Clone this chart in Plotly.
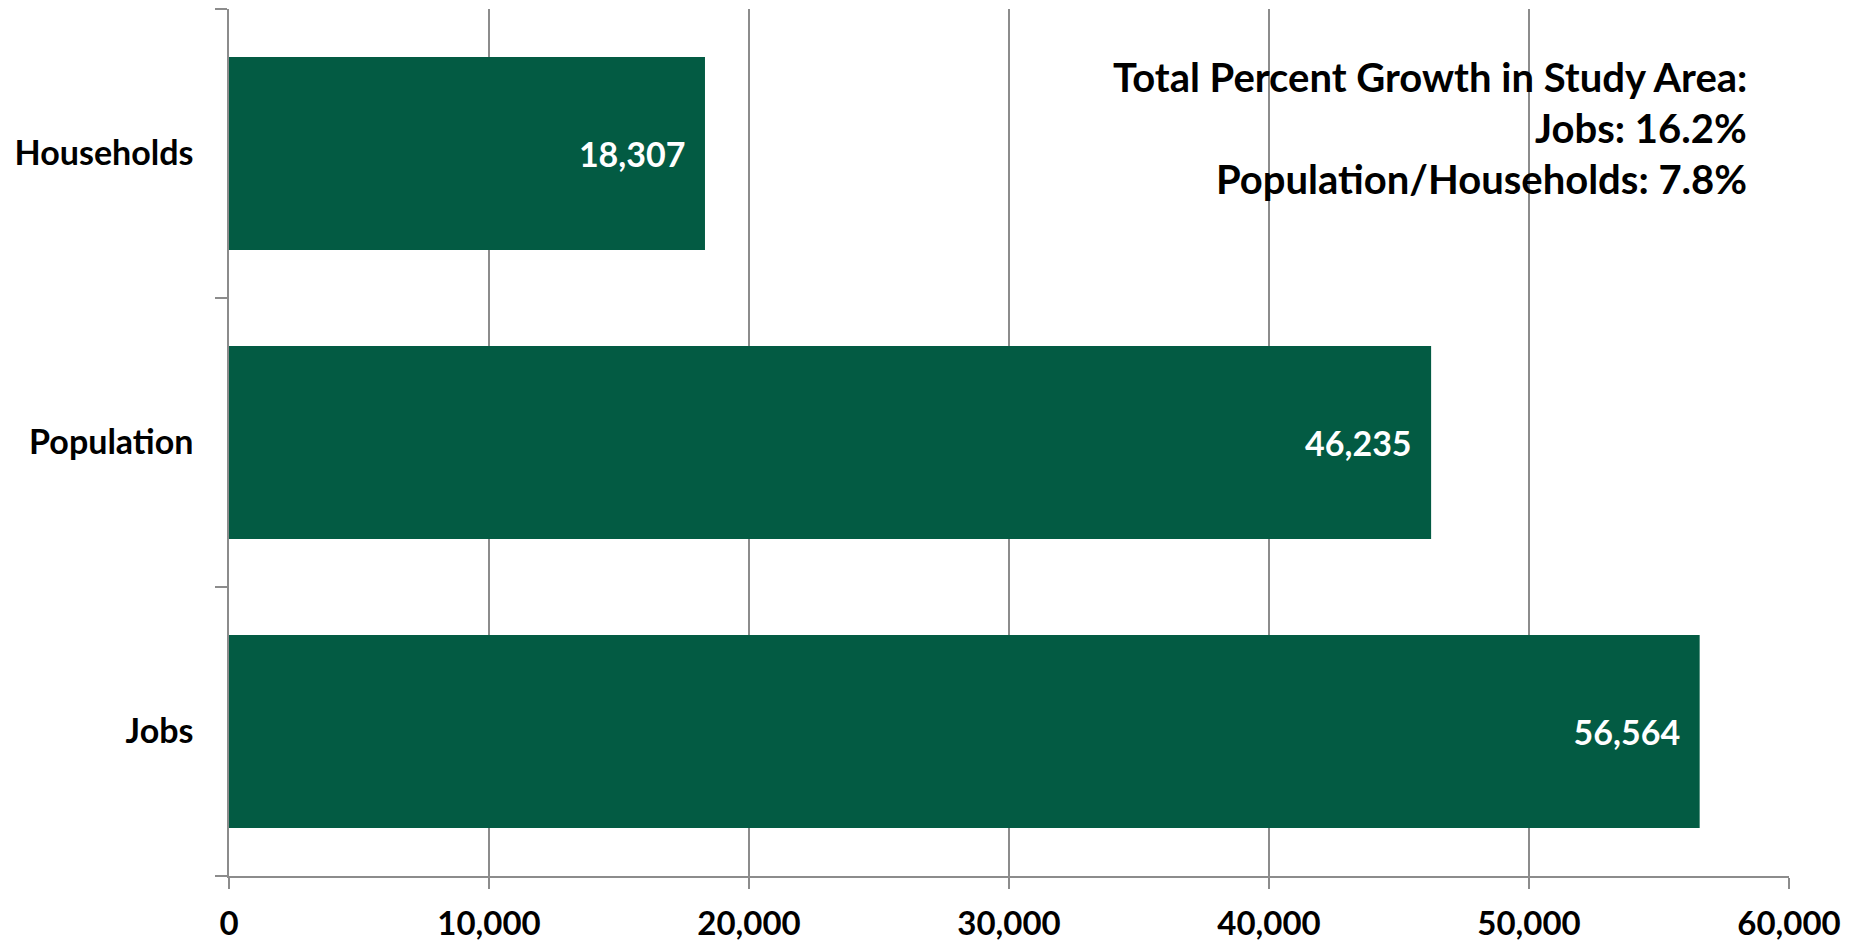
import plotly.graph_objects as go

categories = ["Jobs", "Population", "Households"]
values = [56564, 46235, 18307]
x_tick_vals = [0, 10000, 20000, 30000, 40000, 50000, 60000]
x_tick_text = ["0", "10,000", "20,000", "30,000", "40,000", "50,000", "60,000"]
note_lines = [
    "Total Percent Growth in Study Area:",
    "Jobs: 16.2%",
    "Population/Households: 7.8%",
]

BAR = "#035B43"
GRID = "#8C8C8C"
FONT = "Lato"

fig = go.Figure()
fig.add_trace(go.Bar(
    x=values,
    y=categories,
    orientation="h",
    marker=dict(color=BAR, line=dict(width=0)),
    text=[f"{v:,}" + "\u00a0\u00a0" for v in values],
    textposition="inside",
    insidetextanchor="end",
    textfont=dict(family=FONT, size=34, color="white", weight="bold"),
    cliponaxis=False,
    showlegend=False,
))

# page body adds an 8px offset, so margins compensate for it
fig.update_layout(
    width=1857,
    height=942,
    margin=dict(l=221, r=76, t=1, b=74),
    paper_bgcolor="white",
    plot_bgcolor="white",
    bargap=0.333,
    font=dict(family=FONT, color="black"),
)

fig.update_xaxes(
    range=[0, 60000],
    tickvals=x_tick_vals,
    ticktext=x_tick_text,
    showgrid=True,
    gridcolor=GRID,
    gridwidth=1.5,
    showline=True,
    linecolor=GRID,
    linewidth=1.5,
    ticks="outside",
    ticklen=11,
    tickcolor=GRID,
    tickwidth=1.5,
    tickfont=dict(family=FONT, size=33, color="black", weight="bold"),
    ticklabelstandoff=7,
    zeroline=False,
    automargin=False,
)

fig.update_yaxes(
    categoryorder="array",
    categoryarray=categories,
    showline=True,
    linecolor=GRID,
    linewidth=1.5,
    ticks="outside",
    tickson="boundaries",
    ticklen=12,
    tickcolor=GRID,
    tickwidth=1.5,
    tickfont=dict(family=FONT, size=34, color="black", weight="bold"),
    ticklabelstandoff=27,
    showgrid=False,
    zeroline=False,
    automargin=False,
)

note_y = [0.921, 0.8633, 0.8039]
for line, yy in zip(note_lines, note_y):
    fig.add_annotation(
        text=line,
        xref="paper", yref="paper",
        x=0.9745, y=yy,
        xanchor="right", yanchor="middle",
        showarrow=False,
        font=dict(family=FONT, size=40, color="black", weight="bold"),
    )

fig.write_html("out.html")
